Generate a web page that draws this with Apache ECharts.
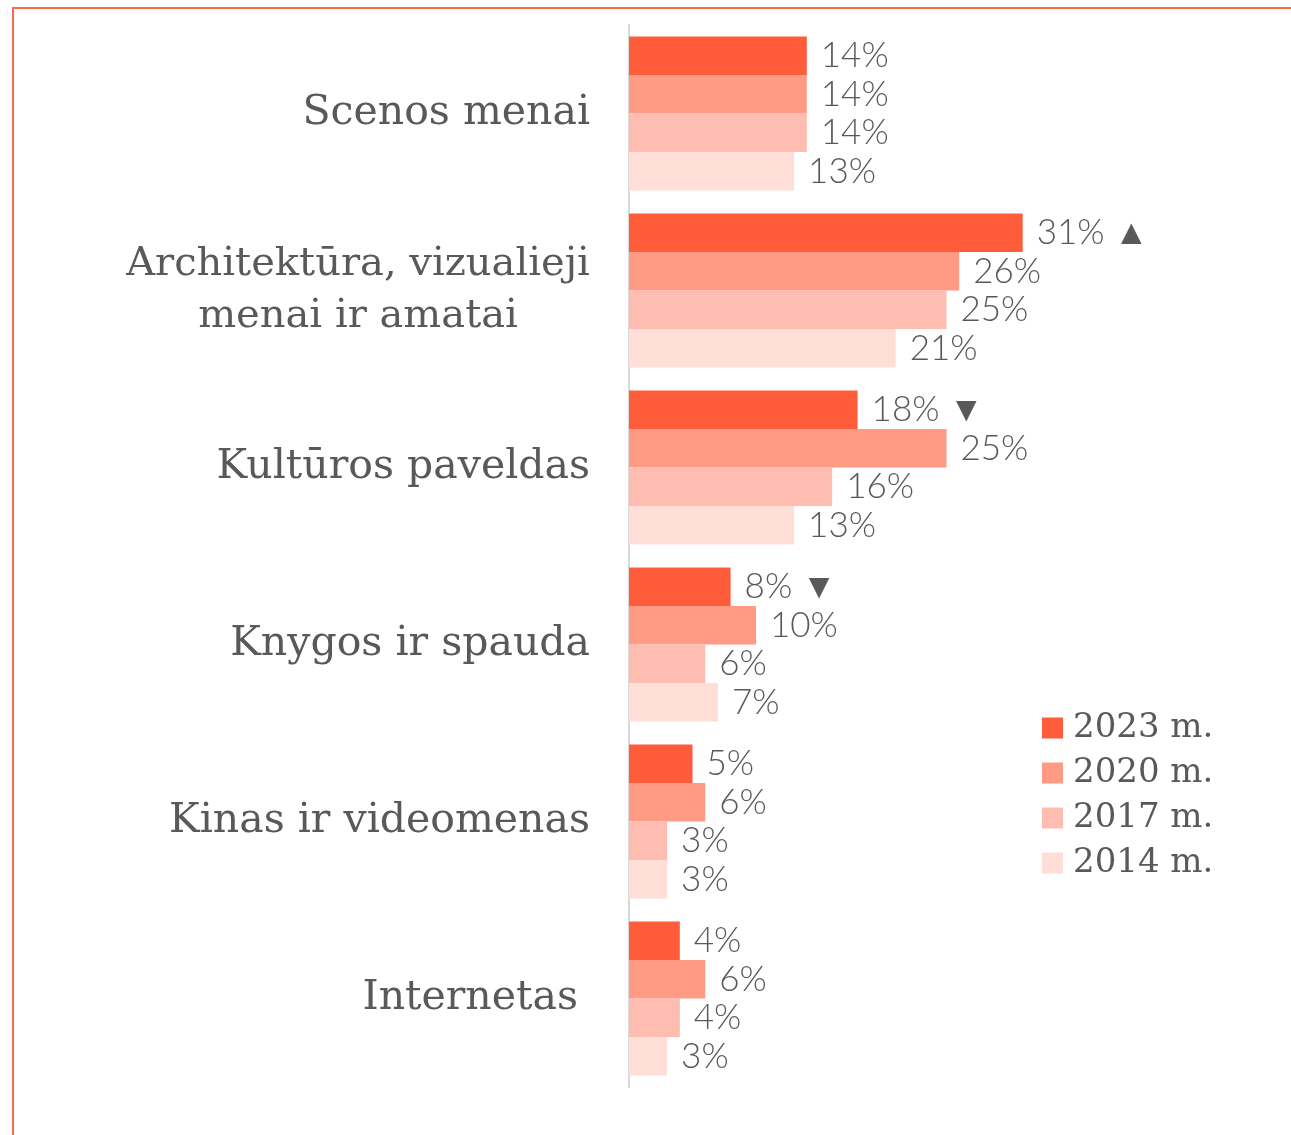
<!DOCTYPE html>
<html><head><meta charset="utf-8">
<script src="https://cdn.jsdelivr.net/npm/echarts@6/dist/echarts.min.js"></script>
<style>html,body{margin:0;padding:0;background:#fff}#c{width:1291px;height:1135px}</style>
</head><body><div id="c"></div>
<script>
const categories = ['Scenos menai', 'Architektūra, vizualieji\nmenai ir amatai', 'Kultūros paveldas', 'Knygos ir spauda', 'Kinas ir videomenas', 'Internetas'];
const seriesNames = ['2023 m.', '2020 m.', '2017 m.', '2014 m.'];
const v2023 = [14, 31, 18, 8, 5, 4];
const v2020 = [14, 26, 25, 10, 6, 6];
const v2017 = [14, 25, 16, 6, 3, 4];
const v2014 = [13, 21, 13, 7, 3, 3];
const arrows2023 = ['', '▲', '▼', '▼', '', ''];
const colors = ['#FF5C3B', '#FF9A85', '#FFBCB0', '#FFDED8'];

const allValues = [v2023, v2020, v2017, v2014];
const chart = echarts.init(document.getElementById('c'));
const txt = '#595959';
const series = allValues.map((vals, i) => ({
  name: seriesNames[i],
  type: 'bar',
  data: vals,
  barGap: '0%',
  barCategoryGap: '13%',
  itemStyle: { color: colors[i] },
  label: {
    show: true, position: 'right', distance: 14,
    fontFamily: 'Lato', fontWeight: 300, fontSize: 35, color: txt,
    formatter: p => p.value + '%' + (i === 0 && arrows2023[p.dataIndex] ? ' ' + arrows2023[p.dataIndex] : '')
  }
}));
chart.setOption({
  animation: false,
  color: colors,
  grid: { left: 629, right: 27, top: 25, bottom: 48, containLabel: false },
  xAxis: { type: 'value', min: 0, max: 50, show: false },
  yAxis: {
    type: 'category', data: categories, inverse: true,
    axisLine: { show: true, lineStyle: { color: '#D9D9D9', width: 2 } },
    axisTick: { show: false },
    axisLabel: {
      margin: 39, fontFamily: 'DejaVu Serif', fontSize: 41, color: txt, lineHeight: 52,
      formatter: (v) => {
        if (v.indexOf('\n') >= 0) {
          return v.split('\n').map(s => '{c|' + s + '}').join('\n');
        }
        if (v === 'Internetas') return '{p|' + v + '}';
        return v;
      },
      rich: {
        c: { width: 464, align: 'center', fontFamily: 'DejaVu Serif', fontSize: 40, color: txt, lineHeight: 52 },
        p: { padding: [0, 12, 0, 0], fontFamily: 'DejaVu Serif', fontSize: 41, color: txt }
      }
    }
  },
  legend: {
    orient: 'vertical', left: 1042, top: 711, padding: 0,
    itemWidth: 21, itemHeight: 21, itemGap: 11,
    icon: 'rect',
    textStyle: { fontFamily: 'DejaVu Serif', fontSize: 34, color: txt, padding: [0, 0, 0, 5] },
    data: seriesNames
  },
  graphic: [
    { type: 'line', shape: { x1: 12, y1: 8, x2: 1291, y2: 8 }, style: { stroke: '#FF6B4A', lineWidth: 2 } },
    { type: 'line', shape: { x1: 13, y1: 8, x2: 13, y2: 1135 }, style: { stroke: '#FF6B4A', lineWidth: 2 } }
  ],
  series: series
});
</script></body></html>
